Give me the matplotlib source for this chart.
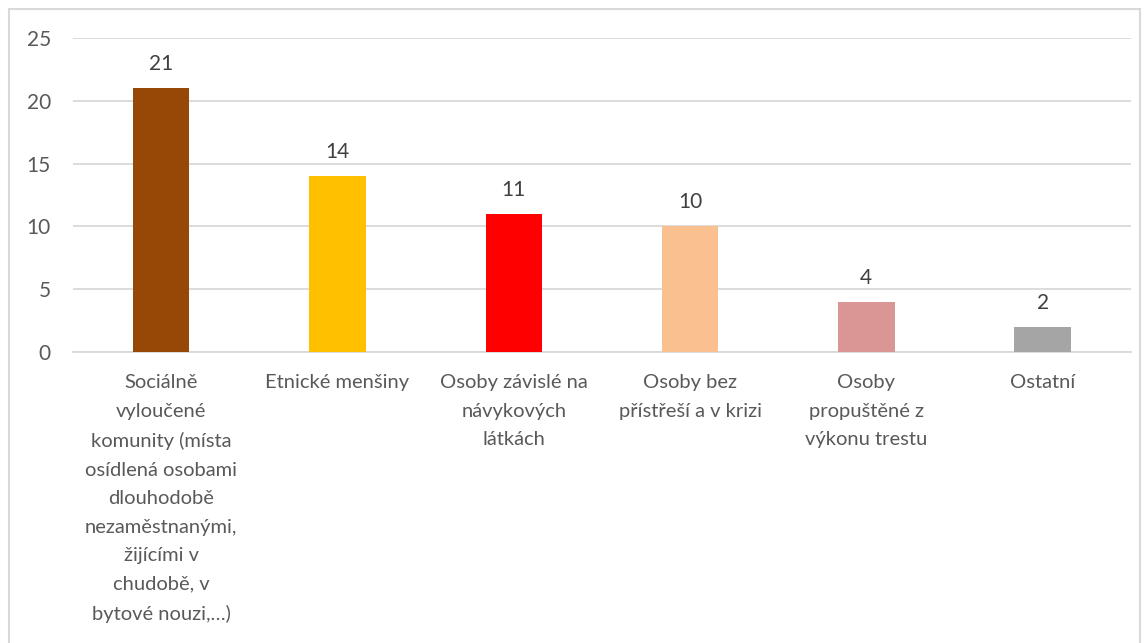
import matplotlib.pyplot as plt
from matplotlib.patches import Rectangle

categories = [
    "Sociálně\nvyloučené\nkomunity (místa\nosídlená osobami\ndlouhodobě\nnezaměstnanými,\nžijícími v\nchudobě, v\nbytové nouzi,…)",
    "Etnické menšiny",
    "Osoby závislé na\nnávykových\nlátkách",
    "Osoby bez\npřístřeší a v krizi",
    "Osoby\npropuštěné z\nvýkonu trestu",
    "Ostatní",
]
values = [21, 14, 11, 10, 4, 2]
colors = ["#974706", "#FFC000", "#FF0000", "#FAC090", "#D99694", "#A5A5A5"]
yticks = [0, 5, 10, 15, 20, 25]

plt.rcParams['font.family'] = ['Lato', 'DejaVu Sans']
text_color = "#595959"

fig = plt.figure(figsize=(11.48, 6.43), dpi=100)
ax = fig.add_axes([0.0636, 0.4526, 0.9214, 0.4883])

x = range(len(categories))
bars = ax.bar(x, values, width=0.32, color=colors, zorder=3)
ax.bar_label(bars, labels=[str(v) for v in values], padding=10,
             fontsize=15, color="#404040")

ax.set_xlim(-0.5, len(categories) - 0.5)
ax.set_ylim(0, 25)
ax.set_yticks(yticks)
ax.set_yticklabels([str(t) for t in yticks], fontsize=15, color=text_color)
ax.set_xticks(list(x))
ax.set_xticklabels(categories, fontsize=14.5, color=text_color,
                   linespacing=1.82, va="top")
ax.tick_params(axis="both", length=0)
ax.tick_params(axis="y", pad=16)
ax.tick_params(axis="x", pad=16)
ax.grid(axis="y", color="#D9D9D9", linewidth=1.3, zorder=0)
for side in ["top", "right", "left"]:
    ax.spines[side].set_visible(False)
ax.spines["bottom"].set_color("#D9D9D9")
ax.spines["bottom"].set_linewidth(1.3)

# outer chart border
fig.patches.append(Rectangle((9 / 1148, -0.05), 1131 / 1148, 1.05 - 9 / 643,
                             transform=fig.transFigure, fill=False,
                             edgecolor="#D9D9D9", linewidth=1.5))

fig.savefig("out.png", dpi=100)
